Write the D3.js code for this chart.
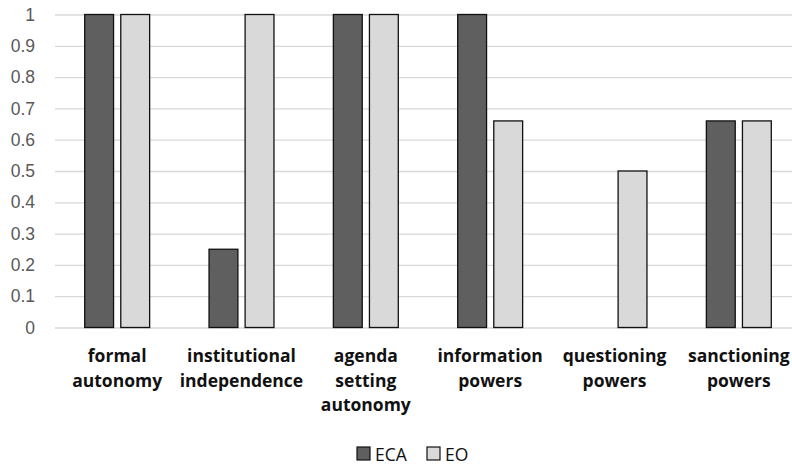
<!DOCTYPE html>
<html>
<head>
<meta charset="utf-8">
<script src="https://cdn.jsdelivr.net/npm/d3@7"></script>
<style>
  html, body { margin: 0; padding: 0; background: #fff; }
  svg { display: block; font-family: "Open Sans", Lato, sans-serif; }
</style>
</head>
<body>
<svg id="chart" width="792" height="465"></svg>
<script>
// Category labels (each entry is the list of lines drawn under the group)
const categories = [
  ["formal", "autonomy"],
  ["institutional", "independence"],
  ["agenda", "setting", "autonomy"],
  ["information", "powers"],
  ["questioning", "powers"],
  ["sanctioning", "powers"]
];
const seriesNames = ["ECA", "EO"];
const ecaValues = [1, 0.25, 1, 1, 0, 0.66];
const eoValues  = [1, 1, 1, 0.66, 0.5, 0.66];
const yTicks = [0, 0.1, 0.2, 0.3, 0.4, 0.5, 0.6, 0.7, 0.8, 0.9, 1];
const seriesColors = ["#5f5f5f", "#d9d9d9"];

const svg = d3.select("#chart");
const margin = { left: 55, right: -9, top: 14.5, bottom: 137.5 };
const W = 792, H = 465;

const x = d3.scaleBand()
  .domain(d3.range(categories.length))
  .range([margin.left, W - margin.right])
  .paddingInner(0).paddingOuter(0);

const inner = d3.scaleBand()
  .domain(seriesNames)
  .range([29.7, x.bandwidth() - 29.7])
  .paddingInner(0.2);

const y = d3.scaleLinear().domain([0, 1]).range([H - margin.bottom, margin.top]);

// gridlines
const grid = svg.append("g")
  .attr("transform", `translate(${margin.left},0)`)
  .call(d3.axisLeft(y).tickValues(yTicks).tickSize(-(W - margin.right - margin.left)).tickFormat(""));
grid.select(".domain").remove();
grid.selectAll(".tick line").attr("stroke", "#d9d9d9").attr("stroke-width", 1.3);

// y tick labels
const yAxis = svg.append("g")
  .attr("transform", `translate(${margin.left},0)`)
  .call(d3.axisLeft(y).tickValues(yTicks).tickSize(0).tickPadding(20).tickFormat(d3.format("")));
yAxis.select(".domain").remove();
yAxis.selectAll("text")
  .attr("fill", "#595959")
  .style("font-size", "17.5px");

// bars
const data = categories.map((c, i) => ({ i, values: [ecaValues[i], eoValues[i]] }));
const groups = svg.append("g").selectAll("g")
  .data(data).join("g")
  .attr("transform", d => `translate(${x(d.i)},0)`);

groups.selectAll("rect")
  .data(d => d.values.map((v, k) => ({ v, k })).filter(e => e.v > 0))
  .join("rect")
  .attr("x", e => inner(seriesNames[e.k]))
  .attr("width", inner.bandwidth())
  .attr("y", e => y(e.v))
  .attr("height", e => y(0) - y(e.v))
  .attr("fill", e => seriesColors[e.k])
  .attr("stroke", "#111")
  .attr("stroke-width", 1.3);

// category labels
const labelG = svg.append("g");
categories.forEach((lines, i) => {
  const t = labelG.append("text")
    .attr("x", x(i) + x.bandwidth() / 2)
    .attr("y", 362)
    .attr("text-anchor", "middle")
    .attr("fill", "#111")
    .style("font-size", "17.5px")
    .style("font-weight", "bold");
  lines.forEach((ln, j) => {
    t.append("tspan")
      .attr("x", x(i) + x.bandwidth() / 2)
      .attr("dy", j === 0 ? 0 : 24.5)
      .text(ln);
  });
});

// legend
const legend = svg.append("g").attr("transform", "translate(357,447)");
const legendOffsets = [0, 70];
seriesNames.forEach((name, k) => {
  const g = legend.append("g").attr("transform", `translate(${legendOffsets[k]},0)`);
  g.append("rect")
    .attr("width", 13).attr("height", 13)
    .attr("fill", seriesColors[k])
    .attr("stroke", "#111").attr("stroke-width", 1.2);
  g.append("text")
    .attr("x", 18).attr("y", 13.5)
    .attr("fill", "#111")
    .style("font-size", "17.5px")
    .text(name);
});
</script>
</body>
</html>
